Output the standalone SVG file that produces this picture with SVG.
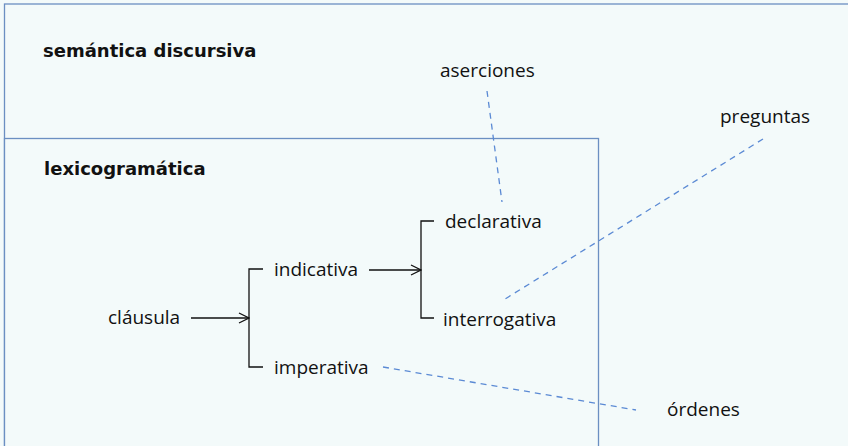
<svg xmlns="http://www.w3.org/2000/svg" width="848" height="446" viewBox="0 0 848 446">
<style>
.box{fill:#f3fafa;stroke:#6b8fc2;stroke-width:1.3}
.t{font-family:"Open Sans","Liberation Sans",sans-serif;font-size:19px;fill:#111}
.b{font-family:"DejaVu Sans","Liberation Sans",sans-serif;font-weight:bold;font-size:18px;fill:#111}
.ln{fill:none;stroke:#111;stroke-width:1.3}
.d{fill:none;stroke:#5b8ad4;stroke-width:1.3;stroke-dasharray:6 5}
</style>
<defs>
<marker id="ar" markerWidth="12" markerHeight="12" refX="11" refY="6" orient="auto" markerUnits="userSpaceOnUse">
<path d="M1,1 L11,6 L1,11" fill="none" stroke="#111" stroke-width="1.3"/>
</marker>
</defs>
<rect width="848" height="446" fill="#f3fafa"/>
<g id="semantica">
<rect class="box" x="4.5" y="4" width="860" height="460"/>
<text class="b" x="43" y="57">semántica discursiva</text>
</g>
<g id="lexicogramatica">
<rect class="box" x="4.5" y="138.5" width="594" height="330"/>
<text class="b" x="44" y="175">lexicogramática</text>
</g>
<g id="clausula"><text class="t" x="108" y="324">cláusula</text></g>
<g id="indicativa"><text class="t" x="274" y="276">indicativa</text></g>
<g id="imperativa"><text class="t" x="274" y="374">imperativa</text></g>
<g id="declarativa"><text class="t" x="445" y="228">declarativa</text></g>
<g id="interrogativa"><text class="t" x="443" y="326">interrogativa</text></g>
<g id="aserciones"><text class="t" x="440" y="77">aserciones</text></g>
<g id="preguntas"><text class="t" x="720" y="123">preguntas</text></g>
<g id="ordenes"><text class="t" x="667" y="416">órdenes</text></g>
<g id="connectors">
<path class="ln" d="M191,318 H249" marker-end="url(#ar)"/>
<path class="ln" d="M263,269 H249 V367 H263"/>
<path class="ln" d="M369,270 H421" marker-end="url(#ar)"/>
<path class="ln" d="M434,221 H421 V318 H434"/>
<path class="d" d="M487,91 L502,202"/>
<path class="d" d="M763,139 L505,299"/>
<path class="d" d="M383,367 L636,410"/>
</g>
</svg>
